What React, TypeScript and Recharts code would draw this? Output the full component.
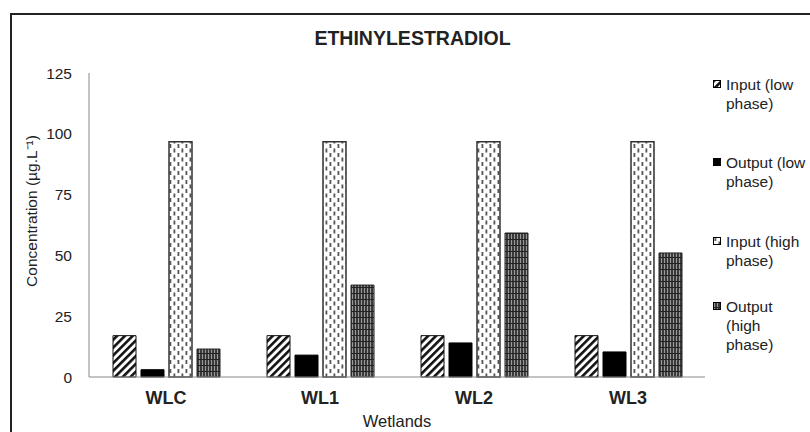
import React from "react"
import { BarChart, Bar, XAxis, YAxis, Legend } from "recharts"

const wetlands = ["WLC", "WL1", "WL2", "WL3"]
const inputLow = [17, 17, 17, 17]
const outputLow = [3, 9, 14, 10.3]
const inputHigh = [96.7, 96.7, 96.7, 96.7]
const outputHigh = [11.5, 37.8, 59.2, 51]
const yTicks = [0, 25, 50, 75, 100, 125]

const seriesNames = ["Input (low phase)", "Output (low phase)", "Input (high phase)", "Output (high phase)"]
const legendLines = [["Input (low", "phase)"], ["Output (low", "phase)"], ["Input (high", "phase)"], ["Output", "(high", "phase)"]]

const data = wetlands.map((name, i) => ({
  name,
  inLow: inputLow[i],
  outLow: outputLow[i],
  inHigh: inputHigh[i],
  outHigh: outputHigh[i],
}))

const font = "'Liberation Sans', Arial, sans-serif"
const fills = ["url(#stripes)", "#000", "url(#dashes)", "url(#grid)"]
const legendTops = [75, 153, 232, 297]

const ChartLegend = () => (
  <div style={{ position: "relative", width: 0, height: 0 }}>
    {legendLines.map((lines, i) => (
      <div key={i} style={{ position: "absolute", left: 713, top: legendTops[i], fontFamily: font, fontSize: 15.5, lineHeight: "19px", color: "#222", whiteSpace: "nowrap" }}>
        <svg width={8} height={8} style={{ position: "absolute", left: 0, top: 5 }}>
          <rect x={0.5} y={0.5} width={7} height={7} fill={fills[i]} stroke="#000" />
        </svg>
        {lines.map((l, j) => (
          <div key={j} style={{ marginLeft: 13 }}>{l}</div>
        ))}
      </div>
    ))}
  </div>
)

const YLabel = ({ viewBox }: any) => {
  const x = viewBox.x + 31
  const y = viewBox.y + viewBox.height / 2 - 14
  return (
    <text x={x} y={y} transform={`rotate(-90 ${x} ${y})`} textAnchor="middle" dominantBaseline="central" fill="#222" fontFamily={font} fontSize={15.5}>
      Concentration (µg.L⁻¹)
    </text>
  )
}

export default function App() {
  return (
    <div style={{ position: "fixed", left: 0, top: 0, width: 810, height: 432, background: "#fff", overflow: "hidden" }}>
      <div style={{ position: "absolute", left: 10, top: 13, width: 830, height: 450, border: "2px solid #222" }} />
      <div style={{ position: "absolute", left: 0, top: 27, width: 810, textAlign: "center", paddingLeft: 15, boxSizing: "border-box", fontFamily: font, fontWeight: "bold", fontSize: 19.5, color: "#222" }}>
        ETHINYLESTRADIOL
      </div>
      <BarChart
        width={810}
        height={432}
        data={data}
        margin={{ top: 73, right: 105, bottom: 0, left: 0 }}
        barCategoryGap={23}
        barGap={5}
        style={{ position: "absolute", left: 0, top: 0 }}
      >
        <defs>
          <pattern id="stripes" patternUnits="userSpaceOnUse" width={5.5} height={5.5} patternTransform="rotate(45)">
            <rect width={5.5} height={5.5} fill="#fff" />
            <rect x={0} y={0} width={2.6} height={5.5} fill="#111" />
          </pattern>
          <pattern id="dashes" patternUnits="userSpaceOnUse" width={8} height={9}>
            <rect width={8} height={9} fill="#fff" />
            <rect x={1.5} y={0} width={1.8} height={4} fill="#555" />
            <rect x={5.5} y={4.5} width={1.8} height={4} fill="#555" />
          </pattern>
          <pattern id="grid" patternUnits="userSpaceOnUse" width={3} height={6}>
            <rect width={3} height={6} fill="#3a3a3a" />
            <rect x={1} y={0} width={1} height={6} fill="#9a9a9a" />
            <rect x={0} y={5} width={3} height={1} fill="#222" />
          </pattern>
        </defs>
        <XAxis
          dataKey="name"
          height={55}
          tickLine={false}
          tickSize={0}
          tickMargin={14}
          stroke="#888"
          tick={{ fill: "#222", fontFamily: font, fontWeight: "bold", fontSize: 18 }}
          label={{ value: "Wetlands", position: "insideBottom", offset: 5, fill: "#222", fontFamily: font, fontSize: 16.5 }}
        />
        <YAxis
          domain={[0, 125]}
          ticks={yTicks}
          width={89}
          tickLine={false}
          tickSize={0}
          tickMargin={17}
          stroke="#888"
          tick={{ fill: "#222", fontFamily: font, fontSize: 15.5 }}
          label={<YLabel />}
        />
        <Legend content={ChartLegend} wrapperStyle={{ left: 0, top: 0, width: 0, height: 0 }} />
        <Bar dataKey="inLow" name={seriesNames[0]} fill={fills[0]} stroke="#111" barSize={23} isAnimationActive={false} />
        <Bar dataKey="outLow" name={seriesNames[1]} fill={fills[1]} stroke="#000" barSize={23} isAnimationActive={false} />
        <Bar dataKey="inHigh" name={seriesNames[2]} fill={fills[2]} stroke="#333" strokeWidth={1.5} barSize={23} isAnimationActive={false} />
        <Bar dataKey="outHigh" name={seriesNames[3]} fill={fills[3]} stroke="#222" barSize={23} isAnimationActive={false} />
      </BarChart>
    </div>
  )
}
